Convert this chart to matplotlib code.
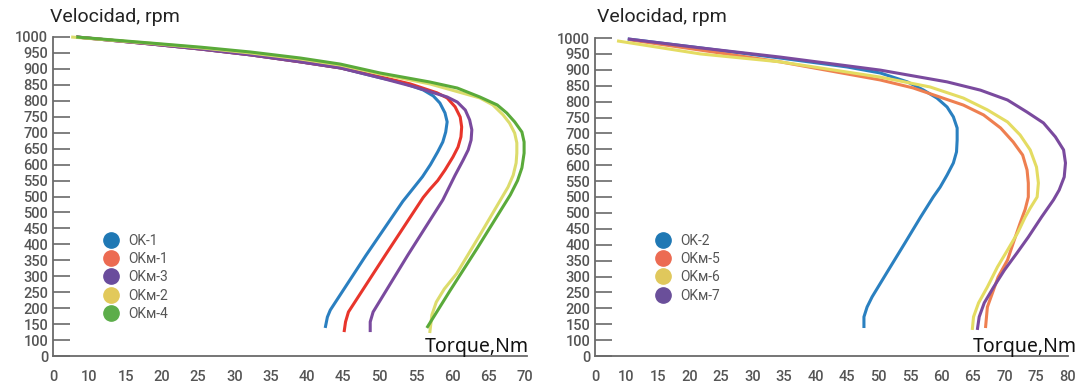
import matplotlib
matplotlib.use("Agg")
import matplotlib.pyplot as plt
from matplotlib.lines import Line2D

# ---------------- data (axis position units) ----------------
y_tick_pos = [1000, 950, 900, 850, 800, 750, 700, 650, 600, 550, 500,
              450, 400, 350, 300, 250, 200, 150, 100, 50, 0]
y_tick_labels = ["1000", "950", "900", "850", "800", "750", "700", "650", "600",
                 "550", "500", "500", "450", "400", "350", "300", "250", "200",
                 "150", "100", "0"]

x_tick_pos_left = [5, 10, 15, 20, 25, 30, 35, 40, 45, 50, 55, 60, 65, 70]
x_tick_labels_left = ["0", "10", "15", "20", "25", "30", "35", "40", "45", "50",
                      "55", "60", "65", "70"]
x_tick_pos_right = [5, 10, 15, 20, 25, 30, 35, 40, 45, 50, 55, 60, 65, 70, 75, 80]
x_tick_labels_right = ["0", "10", "15", "20", "25", "30", "35", "40", "45", "50",
                       "55", "60", "65", "70", "75", "80"]

# Left panel
ok1_x = [8.2, 18.5, 25.4, 32.2, 39.1, 44.6, 50.1, 52.8, 56.0, 57.4, 58.3, 59.0, 59.3,
         59.1, 58.7, 58.0, 57.0, 55.9, 54.5, 53.2, 48.1, 43.2, 42.8, 42.5]
ok1_y = [1000, 978, 962, 944, 922, 903, 872, 859, 834, 815, 793, 762, 734,
         702, 671, 640, 600, 562, 522, 485, 315, 144, 122, 88]

okm1_x = [8.2, 18.5, 25.4, 32.2, 39.1, 44.6, 50.1, 54.2, 57.9, 59.3, 60.4, 61.1, 61.3,
          61.2, 60.8, 60.1, 59.0, 58.0, 56.9, 56.0, 50.8, 45.7, 45.3, 45.1]
okm1_y = [1000, 978, 962, 944, 922, 903, 875, 853, 825, 809, 781, 749, 718,
          687, 655, 624, 583, 550, 522, 497, 317, 138, 107, 75]

okm3_x = [8.2, 18.5, 25.4, 32.2, 39.1, 44.6, 50.1, 54.9, 59.3, 60.7, 61.8, 62.4, 62.7,
          62.6, 62.2, 61.5, 60.4, 58.7, 53.9, 49.1, 48.7, 48.7]
okm3_y = [1000, 978, 962, 944, 922, 903, 872, 843, 812, 796, 771, 740, 709,
          677, 646, 614, 567, 489, 317, 138, 107, 75]

okm2_x = [7.5, 18.5, 25.4, 32.2, 39.1, 44.6, 50.1, 56.9, 63.8, 65.6, 67.0, 67.9, 68.6,
          68.9, 68.9, 68.8, 68.4, 67.7, 63.8, 60.6, 58.9, 57.8, 57.2, 56.9]
okm2_y = [1000, 980, 966, 950, 931, 912, 884, 853, 809, 787, 756, 730, 699,
          668, 636, 605, 567, 530, 379, 258, 210, 169, 129, 72]

okm4_x = [8.2, 18.5, 25.4, 32.2, 39.1, 44.6, 50.1, 56.9, 60.7, 63.8, 66.2, 67.5, 68.6,
          69.6, 69.9, 69.9, 69.6, 69.0, 68.0, 63.5, 59.7, 56.5]
okm4_y = [1000, 981, 968, 953, 934, 915, 887, 859, 840, 812, 787, 762, 734,
          702, 671, 636, 590, 550, 505, 340, 205, 88]

# Right panel
ok2_x = [10.2, 21.7, 34.4, 45.0, 50.3, 54.6, 57.1, 59.3, 60.9, 61.9, 62.5, 62.5, 62.4,
         61.9, 60.9, 59.8, 58.7, 56.7, 54.2, 51.3, 49.0, 48.2, 47.7, 47.7]
ok2_y = [997, 969, 937, 909, 890, 862, 837, 811, 783, 752, 717, 679, 642,
         607, 569, 531, 500, 437, 355, 261, 186, 154, 123, 88]

okm5_x = [10.6, 21.7, 34.4, 50.3, 55.5, 59.8, 63.5, 66.7, 69.4, 71.4, 72.9, 73.6, 73.8,
          73.8, 73.3, 72.5, 71.4, 70.5, 69.0, 68.1, 67.3, 67.0]
okm5_y = [994, 962, 925, 868, 843, 814, 789, 758, 717, 673, 632, 585, 544,
          500, 461, 418, 355, 302, 248, 198, 154, 88]

okm6_x = [8.5, 21.7, 34.4, 50.3, 58.2, 63.5, 67.3, 70.5, 72.5, 74.1, 75.1, 75.4, 75.2,
          74.1, 73.3, 72.1, 70.5, 68.9, 67.3, 65.9, 65.1, 64.9]
okm6_y = [991, 950, 925, 877, 846, 811, 774, 736, 695, 648, 594, 544, 500,
          465, 437, 387, 333, 280, 217, 167, 123, 82]

okm7_x = [10.2, 21.7, 34.4, 50.3, 60.9, 66.2, 70.5, 73.6, 76.2, 78.1, 79.4, 79.7, 79.5,
          78.7, 77.8, 75.9, 73.8, 72.0, 70.0, 68.3, 66.8, 66.0, 65.7]
okm7_y = [997, 969, 940, 899, 862, 836, 805, 767, 733, 689, 648, 607, 563,
          522, 491, 437, 374, 324, 270, 217, 167, 123, 82]

left_series = [
    ("OK-1", ok1_x, ok1_y, "#2a7fc0", "#1f78b4"),
    ("OKм-1", okm1_x, okm1_y, "#e8352b", "#ec6b52"),
    ("OKм-3", okm3_x, okm3_y, "#7a4a9e", "#6a4c9c"),
    ("OKм-2", okm2_x, okm2_y, "#dcdc6c", "#e2c95a"),
    ("OKм-4", okm4_x, okm4_y, "#5aaa3a", "#5cad4a"),
]
right_series = [
    ("OK-2", ok2_x, ok2_y, "#2a80c0", "#1f78b4"),
    ("OKм-5", okm5_x, okm5_y, "#ee7f50", "#ec6b52"),
    ("OKм-6", okm6_x, okm6_y, "#e4dc62", "#e0c85c"),
    ("OKм-7", okm7_x, okm7_y, "#7a4a9e", "#6a4f9a"),
]

W, H = 1082, 388
fig = plt.figure(figsize=(W / 100, H / 100), dpi=100)
fig.patch.set_facecolor("white")

axis_col = "#6a6a6a"
label_col = "#555555"


def make_axes(px_left, px_right, py_top, py_bottom, xlim, xpos, xlabels, series, legend_px):
    ax = fig.add_axes([px_left / W, 1 - py_bottom / H,
                       (px_right - px_left) / W, (py_bottom - py_top) / H])
    ax.set_xlim(*xlim)
    ax.set_ylim(0, 1000)
    for s in ["top", "right"]:
        ax.spines[s].set_visible(False)
    for s in ["left", "bottom"]:
        ax.spines[s].set_color(axis_col)
        ax.spines[s].set_linewidth(1.3)
    ax.set_yticks(y_tick_pos)
    ax.set_yticklabels(y_tick_labels, family="Roboto", fontsize=10.5,
                       color=label_col, fontweight="medium")
    ax.tick_params(axis="y", direction="in", length=12, width=1.2,
                   color=axis_col, pad=3.5)
    ax.set_xticks(xpos)
    ax.set_xticklabels(xlabels, family="Roboto", fontsize=10.5,
                       color=label_col, fontweight="medium")
    ax.tick_params(axis="x", length=0, pad=10)
    handles = []
    for name, xs, ys, lc, mc in series:
        ax.plot(xs, ys, color=lc, lw=2.2, solid_capstyle="butt",
                solid_joinstyle="round", clip_on=False)
        handles.append(Line2D([], [], ls="none", marker="o", markersize=11,
                              markerfacecolor=mc, markeredgecolor=mc, label=name))
    leg = ax.legend(handles=handles, loc="upper left",
                    bbox_to_anchor=(legend_px[0] / W, 1 - legend_px[1] / H),
                    bbox_transform=fig.transFigure, frameon=False,
                    borderpad=0, borderaxespad=0, handlelength=1.2,
                    handletextpad=0.6, labelspacing=0.3,
                    prop={"family": "Roboto", "size": 10})
    for t in leg.get_texts():
        t.set_color(label_col)
    return ax


make_axes(53, 527, 37, 356, (5, 70.3), x_tick_pos_left, x_tick_labels_left,
          left_series, (103, 234))
make_axes(595, 1068, 38, 356, (5, 80.1), x_tick_pos_right, x_tick_labels_right,
          right_series, (655, 234))

for xl in [50, 597]:
    fig.text(xl / W, 1 - 17 / H, "Velocidad, rpm", family="Roboto", fontsize=14,
             color="#222222", ha="left", va="center")
for xl in [425, 973]:
    fig.text(xl / W, 1 - 352 / H, "Torque,Nm", family="Noto Sans", fontsize=14,
             color="#111111", ha="left", va="baseline")

fig.savefig("out.png", dpi=100)
